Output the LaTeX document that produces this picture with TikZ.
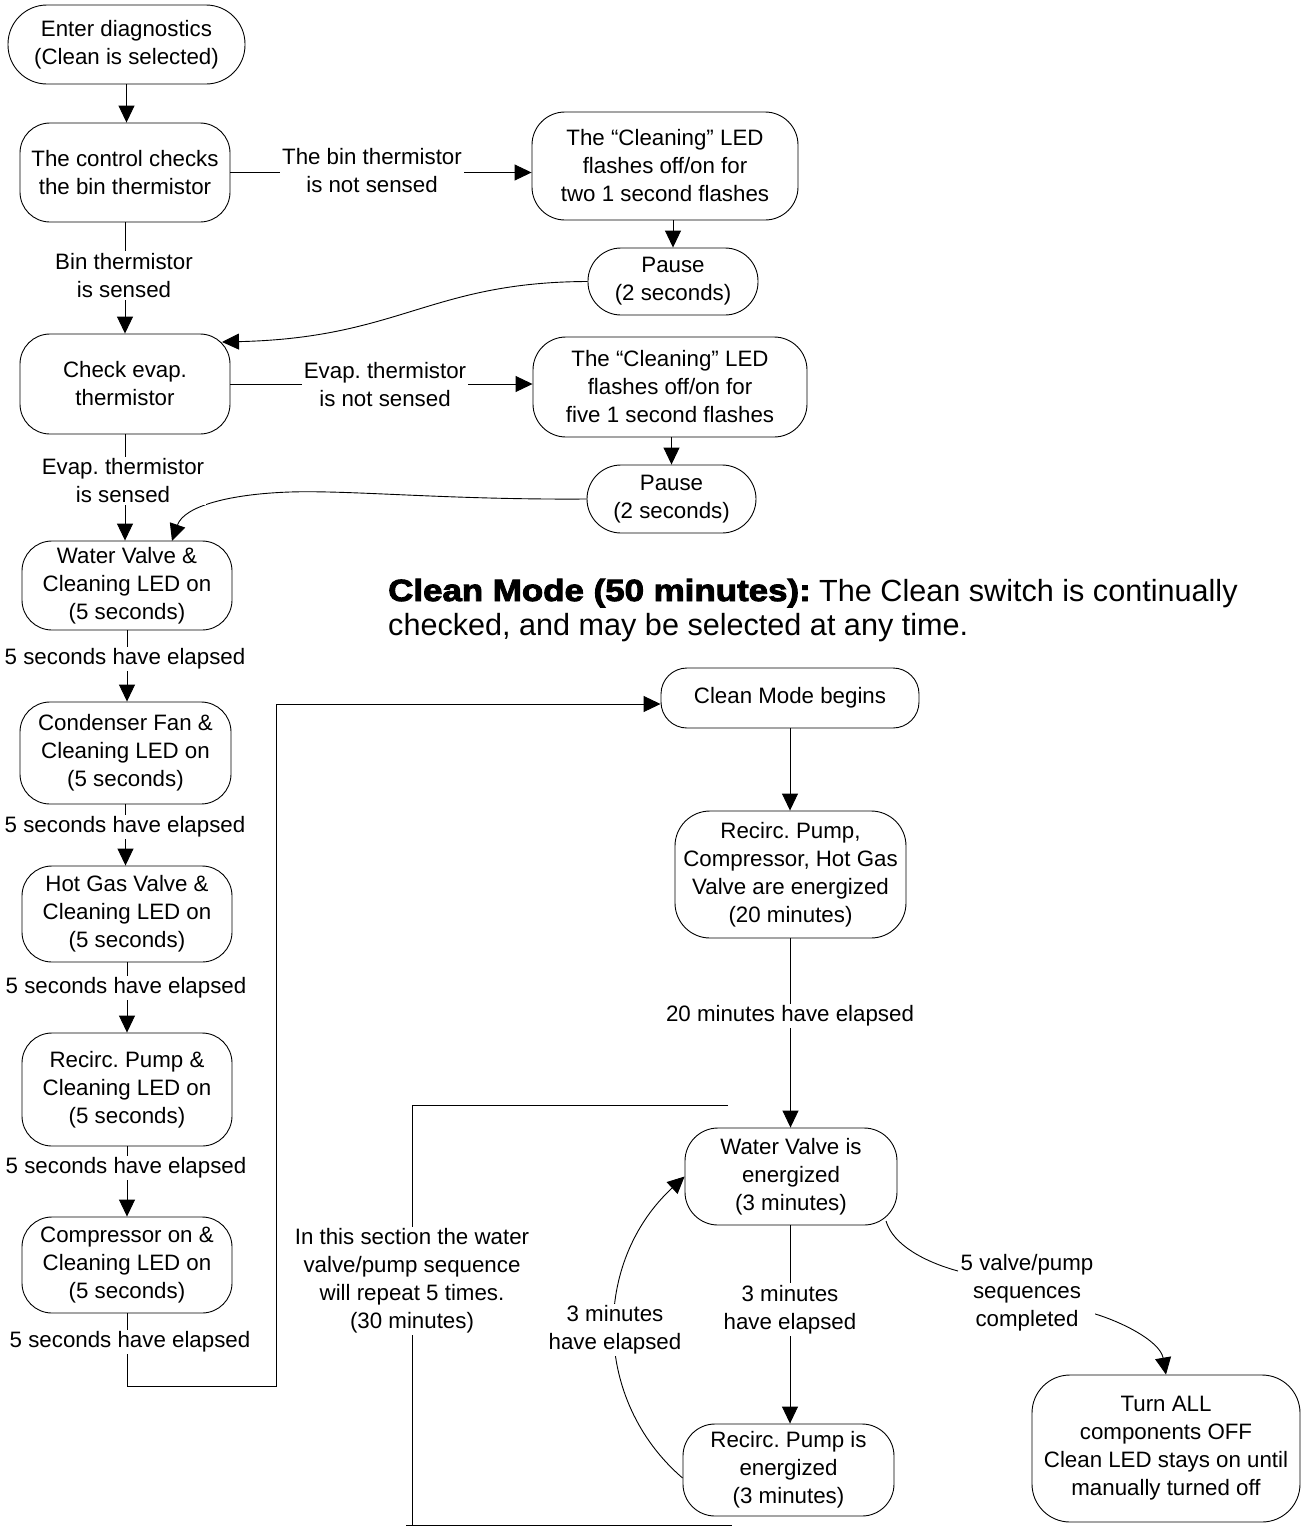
\documentclass[tikz,border=0pt]{standalone}
\usepackage{fontspec}
\setmainfont{Liberation Sans}
\newfontfamily\heavyfont[FakeBold=3,FakeStretch=1.14]{Liberation Sans}
\usetikzlibrary{arrows.meta,calc}
\frenchspacing
\begin{document}
\frenchspacing
\begin{tikzpicture}[x=1pt,y=-1pt,
  every node/.style={font=\fontsize{22.3}{28}\selectfont},
  box/.style={draw, line width=0.9pt, align=center, inner sep=0pt},
  lbl/.style={fill=white, inner sep=2pt, align=center},
  arr/.style={line width=0.9pt, -{Triangle[length=17pt,width=16pt]}},
  ln/.style={line width=0.9pt}]
\useasboundingbox (0,0) rectangle (1306,1529);

% ---------- left column ----------
\node[box, minimum width=237pt, minimum height=79pt, rounded corners=39pt] (enter) at (126.5,44.5) {Enter diagnostics\\(Clean is selected)};
\node[box, minimum width=210pt, minimum height=99pt, rounded corners=30pt] (ctrl) at (125,172.5) {The control checks\\the bin thermistor};
\node[box, minimum width=210pt, minimum height=100pt, rounded corners=30pt] (chk) at (125,384) {Check evap.\\thermistor};
\node[box, minimum width=210pt, minimum height=89pt, rounded corners=30pt] (wv) at (127,585.5) {Water Valve \&\\Cleaning LED on\\(5 seconds)};
\node[box, minimum width=211pt, minimum height=102pt, rounded corners=30pt] (cf) at (125.5,753) {Condenser Fan \&\\Cleaning LED on\\(5 seconds)};
\node[box, minimum width=210pt, minimum height=96pt, rounded corners=30pt] (hg) at (127,914) {Hot Gas Valve \&\\Cleaning LED on\\(5 seconds)};
\node[box, minimum width=210pt, minimum height=113pt, rounded corners=30pt] (rp) at (127,1089.5) {Recirc. Pump \&\\Cleaning LED on\\(5 seconds)};
\node[box, minimum width=210pt, minimum height=96pt, rounded corners=30pt] (cp) at (127,1265) {Compressor on \&\\Cleaning LED on\\(5 seconds)};

% ---------- upper right ----------
\node[box, minimum width=266pt, minimum height=108pt, rounded corners=33pt] (fl1) at (665,166) {The “Cleaning” LED\\flashes off/on for\\two 1 second flashes};
\node[box, minimum width=170pt, minimum height=67pt, rounded corners=33pt] (p1) at (673,281.5) {Pause\\(2 seconds)};
\node[box, minimum width=274pt, minimum height=100pt, rounded corners=33pt] (fl2) at (670,387) {The “Cleaning” LED\\flashes off/on for\\five 1 second flashes};
\node[box, minimum width=169pt, minimum height=68pt, rounded corners=34pt] (p2) at (671.5,499) {Pause\\(2 seconds)};

% ---------- clean mode ----------
\node[box, minimum width=258pt, minimum height=60pt, rounded corners=26pt] (cmb) at (790,698) {Clean Mode begins};
\node[box, minimum width=231pt, minimum height=127pt, rounded corners=35pt] (rpc) at (790.5,874.5) {Recirc. Pump,\\Compressor, Hot Gas\\Valve are energized\\(20 minutes)};
\node[box, minimum width=212pt, minimum height=97pt, rounded corners=33pt] (wve) at (791,1176.5) {Water Valve is\\energized\\(3 minutes)};
\node[box, minimum width=211pt, minimum height=92pt, rounded corners=32pt] (rpe) at (788.5,1470) {Recirc. Pump is\\energized\\(3 minutes)};
\node[box, minimum width=268pt, minimum height=147pt, rounded corners=38pt] (off) at (1166,1448.5) {Turn ALL\\components OFF\\Clean LED stays on until\\manually turned off};

% ---------- title ----------
\node[anchor=base west, inner sep=0pt, font=\fontsize{30.6}{34}\selectfont] (t1) at (388,601) {{\heavyfont\bfseries Clean Mode (50 minutes):} The Clean switch is continually};
\node[anchor=base west, inner sep=0pt, font=\fontsize{30.6}{34}\selectfont] (t2) at (388,635) {checked, and may be selected at any time.};

% ---------- coordinates ----------
\coordinate (chkin) at (222,342);
\coordinate (wvin) at (172,541);
\coordinate (b1) at (127,1386);
\coordinate (b2) at (276,1386);
\coordinate (b3) at (276,704);
\coordinate (wvo) at (886,1221);
\coordinate (s1) at (958,1271);
\coordinate (s2) at (1084,1311);

% ---------- connectors ----------
\draw[arr] (enter.south) -- (enter.south |- ctrl.north);
\draw[arr] (ctrl.south) -- (chk.north);
\draw[arr] (chk.south) -- (chk.south |- wv.north);
\draw[arr] (wv.south) -- (wv.south |- cf.north);
\draw[arr] (cf.south) -- (cf.south |- hg.north);
\draw[arr] (hg.south) -- (hg.south |- rp.north);
\draw[arr] (rp.south) -- (rp.south |- cp.north);
\draw[arr] (cp.south) -- (b1) -- (b2) -- (b3) -- ($(cmb.west)+(0,6)$);

\draw[arr] (ctrl.east) -- (ctrl.east -| fl1.west);
\draw[arr] (chk.east) -- (chk.east -| fl2.west);
\draw[arr] (p1.north |- fl1.south) -- (p1.north);
\draw[arr] (p2.north |- fl2.south) -- (p2.north);
\draw[arr] (p1.west) .. controls (430,282) and (400,338) .. (chkin);
\draw[arr] (p2.west) .. controls (450,500) and (350,490) .. (290,492) .. controls (230,494) and (184,506) .. (wvin);

\draw[arr] (cmb.south) -- (cmb.south |- rpc.north);
\draw[arr] (rpc.south) -- (rpc.south |- wve.north);
\draw[arr] (wve.south -| 790,0) -- (rpe.north -| 790,0);
\draw[arr] ($(rpe.west)+(0,8)$) .. controls (592,1400) and (592,1262) .. (wve.west);
\draw[ln] (wvo) .. controls (893,1245) and (925,1262) .. (s1);
\draw[arr] (s2) .. controls (1115,1318) and (1160,1340) .. (off.north);

% bracket
\draw[ln] (728,1105) -- (412,1105) -- (412,1525);
\draw[ln] (406,1525) -- (732,1525);

% ---------- labels ----------
\node[lbl] (l1) at (124,275.5) {Bin thermistor\\is sensed};
\node[lbl] (l2) at (123,481) {Evap. thermistor\\is sensed};
\node[lbl] (l3) at (125,659) {5 seconds have elapsed};
\node[lbl] (l4) at (125,827) {5 seconds have elapsed};
\node[lbl] (l5) at (126,988) {5 seconds have elapsed};
\node[lbl] (l6) at (126,1168) {5 seconds have elapsed};
\node[lbl] (l7) at (130,1342) {5 seconds have elapsed};
\node[lbl] (l8) at (372,171) {The bin thermistor\\is not sensed};
\node[lbl] (l9) at (385,385) {Evap. thermistor\\is not sensed};
\node[lbl] (l10) at (790,1016) {20 minutes have elapsed};
\node[lbl] (l11) at (790,1309.5) {3 minutes\\have elapsed};
\node[lbl] (l12) at (615,1330) {3 minutes\\have elapsed};
\node[lbl] (l13) at (1027,1293) {5 valve/pump\\sequences\\completed};
\node[lbl] (brk) at (412,1281) {In this section the water\\valve/pump sequence\\will repeat 5 times.\\(30 minutes)};
\end{tikzpicture}
\end{document}
